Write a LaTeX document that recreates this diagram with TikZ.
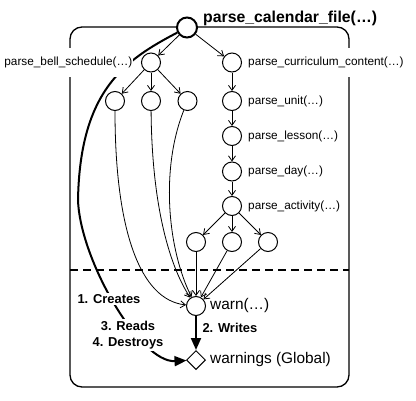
\documentclass[tikz,border=0pt]{standalone}
\usepackage{fontspec}
\setmainfont{Liberation Sans}
\usetikzlibrary{arrows.meta,positioning,shapes.geometric}

\begin{document}
\begin{tikzpicture}[x=1pt, y=-1pt,
  fn/.style={circle, draw, line width=1pt, minimum size=19pt, inner sep=0pt, fill=white},
  fnname/.style={font=\fontsize{11.8}{14}\selectfont, fill=white, inner xsep=1pt, inner ysep=3pt},
  bigname/.style={font=\fontsize{15.4}{18}\selectfont, inner sep=1pt},
  call/.style={line width=0.8pt, -{Straight Barb[length=5pt, width=7pt]}},
  access/.style={line width=2pt, -{Triangle[length=12pt, width=10pt]}},
  action/.style={font=\fontsize{12.9}{16}\selectfont\bfseries, fill=white, inner sep=1.5pt, align=center}]
  \useasboundingbox (0,0) rectangle (416,400);
  \draw [ line width=1.3pt, rounded corners=12pt ] (70,27) rectangle (349,387);
  \draw [ line width=2pt, dash pattern=on 8pt off 5pt ] (70,270) -- (349,270);

  \node [ fn, line width=2pt, minimum size=20pt ] (calendar) at (187,27.5) {};
  \node [ fn ] (bell) at (151,62.5) {};
  \node [ fn ] (curriculum) at (232,62.5) {};
  \node [ fn ] (bell1) at (115,101) {};
  \node [ fn ] (bell2) at (151,101) {};
  \node [ fn ] (bell3) at (187.5,101) {};
  \node [ fn ] (unit) at (232,101) {};
  \node [ fn ] (lesson) at (232,136) {};
  \node [ fn ] (day) at (232,171.5) {};
  \node [ fn ] (activity) at (232,206) {};
  \node [ fn ] (act1) at (196,242) {};
  \node [ fn ] (act2) at (232,242) {};
  \node [ fn ] (act3) at (268,242) {};
  \node [ fn ] (warn) at (196,306) {};
  \node [ diamond, draw, line width=1pt, fill=white, minimum size=19pt, inner sep=0pt ] (warnings) at (196,360) {};

  \draw [ call ] (calendar) -- (bell);
  \draw [ call ] (calendar) -- (curriculum);
  \draw [ call ] (bell) -- (bell1);
  \draw [ call ] (bell) -- (bell2);
  \draw [ call ] (bell) -- (bell3);
  \draw [ call ] (curriculum) -- (unit);
  \draw [ call ] (unit) -- (lesson);
  \draw [ call ] (lesson) -- (day);
  \draw [ call ] (day) -- (activity);
  \draw [ call ] (activity) -- (act1);
  \draw [ call ] (activity) -- (act2);
  \draw [ call ] (activity) -- (act3);
  \draw [ call ] (act1) -- (warn);
  \draw [ call ] (act2) -- (warn);
  \draw [ call ] (act3) -- (warn);
  \draw [ call ] (bell1) .. controls (115,230) and (140,300) .. (warn);
  \draw [ call ] (bell2) .. controls (152,220) and (175,275) .. (warn);
  \draw [ call ] (bell3) .. controls (160,170) and (168,250) .. (warn);

  \draw [ access ] (calendar) .. controls (125,60) and (80,90) .. (78,200)
    .. controls (80,260) and (140,363) .. (warnings);
  \draw [ access ] (warn) -- (warnings) node [ action, pos=0.35, right=4pt ] (writes) {2. Writes};

  \node [ font=\fontsize{15.8}{19}\selectfont\bfseries, inner sep=1pt, right=4pt of calendar, yshift=9pt ] (calendar-name) {parse\_calendar\_file(…)};
  \node [ fnname, inner ysep=9pt, left=7.5pt of bell ] (bell-name) {parse\_bell\_schedule(…)};
  \node [ fnname, inner ysep=9pt, right=5pt of curriculum ] (curriculum-name) {parse\_curriculum\_content(…)};
  \node [ fnname, right=5pt of unit ] (unit-name) {parse\_unit(…)};
  \node [ fnname, right=5pt of lesson ] (lesson-name) {parse\_lesson(…)};
  \node [ fnname, right=5pt of day ] (day-name) {parse\_day(…)};
  \node [ fnname, right=5pt of activity ] (activity-name) {parse\_activity(…)};
  \node [ bigname, right=3pt of warn ] (warn-name) {warn(…)};
  \node [ bigname, right=3pt of warnings ] (warnings-name) {warnings (Global)};

  \node [ action ] (creates) at (109,299) {1. Creates};
  \node [ action ] (reads) at (128,335) {3. Reads\\4. Destroys};
\end{tikzpicture}
\end{document}
